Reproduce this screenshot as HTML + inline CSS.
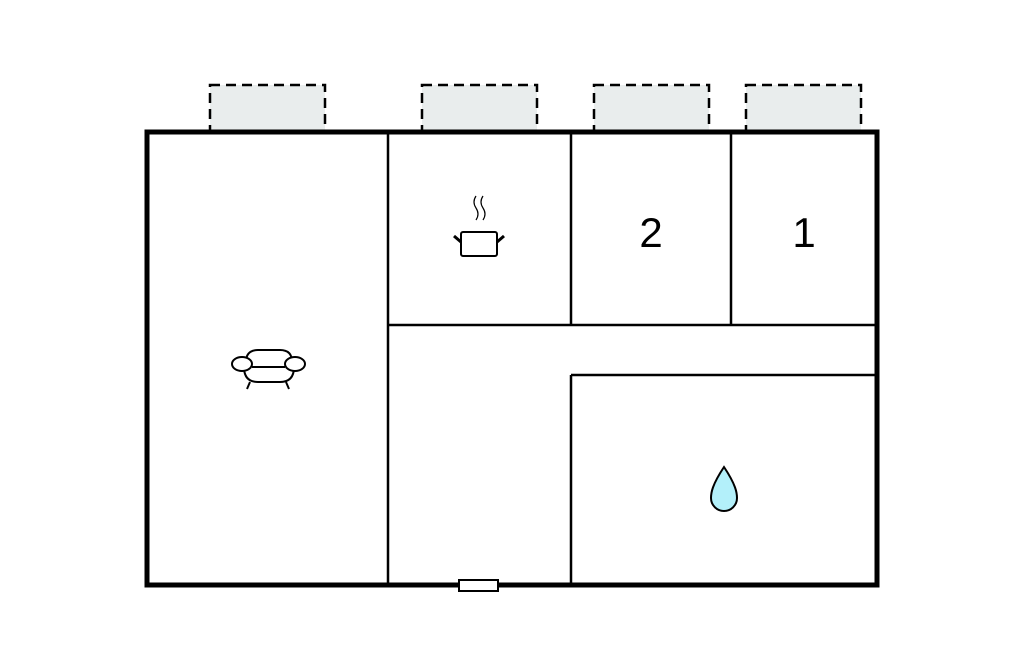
<!DOCTYPE html>
<html><head><style>body{margin:0;background:#fff}</style></head><body>
<svg width="1024" height="652" viewBox="0 0 1024 652" xmlns="http://www.w3.org/2000/svg">
<g fill="#e9eded" stroke="#000" stroke-width="2.5" stroke-dasharray="10,6">
<rect x="210" y="85" width="115" height="46"/>
<rect x="422" y="85" width="115" height="46"/>
<rect x="594" y="85" width="115" height="46"/>
<rect x="746" y="85" width="115" height="46"/>
</g>
<rect x="147" y="132" width="730" height="453" fill="#fff" stroke="#000" stroke-width="5"/>
<g stroke="#000" stroke-width="2.5" fill="none">
<line x1="388" y1="132" x2="388" y2="585"/>
<line x1="388" y1="325" x2="877" y2="325"/>
<line x1="571" y1="132" x2="571" y2="325"/>
<line x1="731" y1="132" x2="731" y2="325"/>
<line x1="571" y1="375" x2="571" y2="585"/>
<line x1="571" y1="375" x2="877" y2="375"/>
</g>
<rect x="459" y="580" width="39" height="11" fill="#fff" stroke="#000" stroke-width="2"/>
<text x="651" y="247" font-family="Liberation Sans, sans-serif" font-size="42" text-anchor="middle">2</text>
<text x="804" y="247" font-family="Liberation Sans, sans-serif" font-size="42" text-anchor="middle">1</text>
<g stroke="#000" fill="#fff" stroke-width="2">
<rect x="461" y="232" width="36" height="24" rx="2"/>
<line x1="454" y1="236" x2="461" y2="242" stroke-width="3"/>
<line x1="504" y1="236" x2="497" y2="242" stroke-width="3"/>
<path d="M476 196 q-4 6 0 12 q4 6 0 12" fill="none" stroke-width="1.2"/>
<path d="M483 196 q-4 6 0 12 q4 6 0 12" fill="none" stroke-width="1.2"/>
</g>
<g stroke="#000" fill="#fff" stroke-width="2">
<path d="M246 362 q0 -12 12 -12 h22 q12 0 12 12"/>
<path d="M244 367 q0 15 14 15 h22 q14 0 14 -15"/>
<line x1="250" y1="382" x2="247" y2="389"/>
<line x1="286" y1="382" x2="289" y2="389"/>
<ellipse cx="242" cy="364" rx="10" ry="7"/>
<ellipse cx="295" cy="364" rx="10" ry="7"/>
<line x1="252" y1="367" x2="285" y2="367"/>
</g>
<path d="M724 467 C712 485 711 493 711 498 a13 13 0 0 0 26 0 C737 493 736 485 724 467 Z" fill="#b3f0fa" stroke="#000" stroke-width="2"/>
</svg>
</body></html>
